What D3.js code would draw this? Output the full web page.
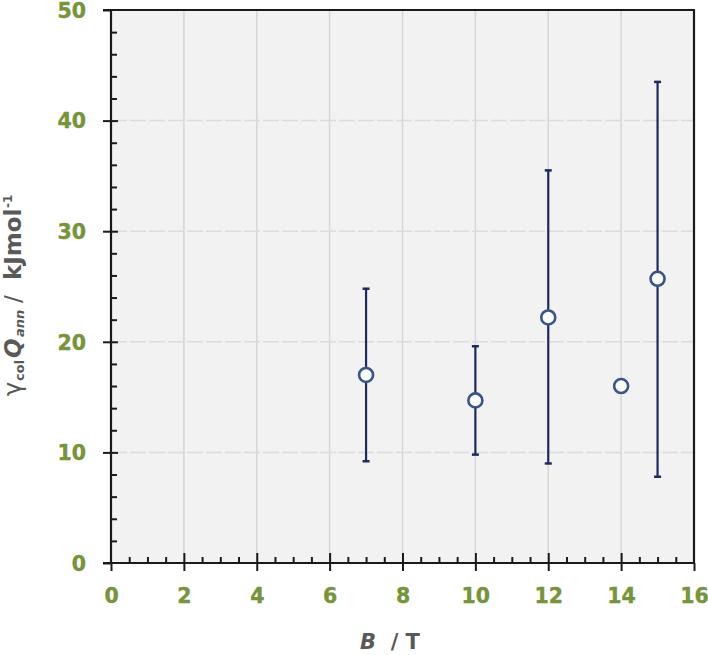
<!DOCTYPE html>
<html><head><meta charset="utf-8">
<script src="https://cdn.jsdelivr.net/npm/d3@7"></script>
<style>body{margin:0;background:#fff}svg{display:block}</style>
</head><body>
<script>
const Bfield = [7, 10, 12, 14, 15];
const gammaQ = [17.0, 14.7, 22.2, 16.0, 25.7];
const errLow = [9.2, 9.8, 9.0, null, 7.8];
const errHigh = [24.8, 19.6, 35.5, null, 43.5];
const xTicks = [0, 2, 4, 6, 8, 10, 12, 14, 16];
const yTicks = [0, 10, 20, 30, 40, 50];

const W = 708, H = 655;
const L = 111, R = 694, T = 10, B = 563;
const svg = d3.select("body").append("svg").attr("width", W).attr("height", H);
const x = d3.scaleLinear().domain([0, 16]).range([L, R]);
const y = d3.scaleLinear().domain([0, 50]).range([B, T]);
const green = "#77933c", grey = "#595959", axc = "#1a1a1a";
const font = "'DejaVu Sans', Verdana, sans-serif";

svg.append("rect").attr("x", L).attr("y", T).attr("width", R - L).attr("height", B - T).attr("fill", "#f2f2f2");

// grid
svg.append("g").selectAll("line").data(xTicks.filter(d => d > 0 && d < 16)).join("line")
  .attr("x1", d => x(d)).attr("x2", d => x(d)).attr("y1", T).attr("y2", B)
  .attr("stroke", "#d6d6d6").attr("stroke-width", 1.5);
svg.append("g").selectAll("line").data(yTicks.filter(d => d > 0 && d < 50)).join("line")
  .attr("x1", L).attr("x2", R).attr("y1", d => y(d)).attr("y2", d => y(d))
  .attr("stroke", "#dcdcdc").attr("stroke-width", 1.5).attr("stroke-dasharray", "16,3");

// axes via d3 axis generators
const yMinor = d3.range(0, 50.01, 2).filter(d => d % 10 !== 0);
const xMinor = d3.range(0, 16.01, 0.5).filter(d => d % 2 !== 0);

const gyMinor = svg.append("g").attr("transform", `translate(${L},0)`)
  .call(d3.axisRight(y).tickValues(yMinor).tickSize(6).tickFormat(""));
const gyMajor = svg.append("g").attr("transform", `translate(${L},0)`)
  .call(d3.axisLeft(y).tickValues(yTicks).tickSize(8).tickPadding(17).tickFormat(d3.format("d")));
const gyMajIn = svg.append("g").attr("transform", `translate(${L},0)`)
  .call(d3.axisRight(y).tickValues(yTicks.filter(d=>d>0 && d<50)).tickSize(7).tickFormat(""));
const gxMinor = svg.append("g").attr("transform", `translate(0,${B})`)
  .call(d3.axisTop(x).tickValues(xMinor).tickSize(6).tickFormat(""));
const gxMajor = svg.append("g").attr("transform", `translate(0,${B})`)
  .call(d3.axisBottom(x).tickValues(xTicks).tickSize(8).tickPadding(17).tickFormat(d3.format("d")));
const gxMajIn = svg.append("g").attr("transform", `translate(0,${B})`)
  .call(d3.axisTop(x).tickValues(xTicks.filter(d=>d>0 && d<16)).tickSize(10).tickFormat(""));
[gyMinor, gyMajor, gyMajIn, gxMinor, gxMajor, gxMajIn].forEach(g => {
  g.select(".domain").remove();
  g.selectAll("line").attr("stroke", axc).attr("stroke-width", 2);
  g.selectAll("text").attr("fill", green).attr("font-family", font).attr("font-weight", "bold").attr("font-size", 20.5)
    .attr("stroke", green).attr("stroke-width", 0.4);
});
gyMajor.selectAll("text").attr("dy", "0.36em");

// frame
svg.append("line").attr("x1", L).attr("x2", L).attr("y1", T).attr("y2", B).attr("stroke", axc).attr("stroke-width", 2.2);
svg.append("line").attr("x1", R).attr("x2", R).attr("y1", T).attr("y2", B).attr("stroke", axc).attr("stroke-width", 2.2);
svg.append("line").attr("x1", L - 8).attr("x2", R + 1).attr("y1", T).attr("y2", T).attr("stroke", axc).attr("stroke-width", 2.2);
svg.append("line").attr("x1", L - 8).attr("x2", R + 1).attr("y1", B).attr("y2", B).attr("stroke", axc).attr("stroke-width", 2.2);

// error bars
const data = Bfield.map((b, i) => ({ b, v: gammaQ[i], lo: errLow[i], hi: errHigh[i] }));
const eb = svg.append("g").attr("stroke", "#1f2a5c").attr("stroke-width", 2.2);
data.filter(d => d.lo != null).forEach(d => {
  eb.append("line").attr("x1", x(d.b)).attr("x2", x(d.b)).attr("y1", y(d.lo)).attr("y2", y(d.hi));
  eb.append("line").attr("x1", x(d.b) - 3.5).attr("x2", x(d.b) + 3.5).attr("y1", y(d.lo)).attr("y2", y(d.lo)).attr("stroke-width", 2.5);
  eb.append("line").attr("x1", x(d.b) - 3.5).attr("x2", x(d.b) + 3.5).attr("y1", y(d.hi)).attr("y2", y(d.hi)).attr("stroke-width", 2.5);
});
svg.append("g").selectAll("circle").data(data).join("circle")
  .attr("cx", d => x(d.b)).attr("cy", d => y(d.v)).attr("r", 7)
  .attr("fill", "#fafafa").attr("stroke", "#3a5488").attr("stroke-width", 2.6);

// x label
const xl = svg.append("text").attr("x", 360).attr("y", 649).attr("text-anchor", "start")
  .attr("font-family", font).attr("font-weight", "bold").attr("font-size", 21).attr("fill", grey)
  .attr("xml:space", "preserve");
xl.append("tspan").attr("font-style", "italic").text("B");
xl.append("tspan").text("  / T");

// y label (rotated; x positions measured along the baseline from y=395 upward)
const yl = svg.append("text").attr("transform", "translate(21,396) rotate(-90)").attr("text-anchor", "start")
  .attr("font-family", font).attr("font-weight", "bold").attr("font-size", 23).attr("fill", grey);
yl.append("tspan").attr("x", 0).attr("font-weight", "normal").attr("font-size", 24).text("γ");
yl.append("tspan").attr("x", 15).attr("font-size", 13).attr("dy", 3).text("col");
yl.append("tspan").attr("x", 38).attr("font-style", "italic").attr("dy", -3).text("Q");
yl.append("tspan").attr("x", 59).attr("font-style", "italic").attr("font-size", 13).attr("dy", 3).text("ann");
yl.append("tspan").attr("x", 93).attr("dy", -3).attr("font-weight", "normal").text("/");
yl.append("tspan").attr("x", 116).text("kJmol");
yl.append("tspan").attr("x", 188).attr("font-size", 12).attr("dy", -9).text("-1");
</script>
</body></html>
